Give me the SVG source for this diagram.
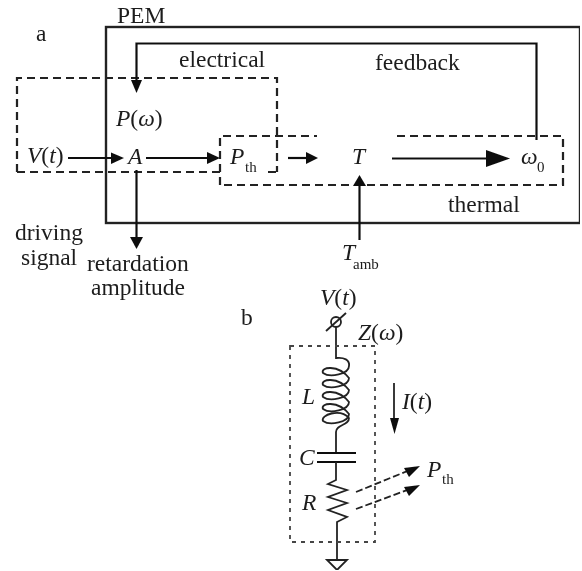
<svg xmlns="http://www.w3.org/2000/svg" width="582" height="571" viewBox="0 0 582 571">
<defs><filter id="soft" x="0" y="0" width="100%" height="100%"><feGaussianBlur stdDeviation="0.45"/></filter></defs>
<style>
text{font-family:"Liberation Serif","Times New Roman",serif;fill:#1c1c1c;font-size:23.500px}
.i{font-style:italic}
.s{font-size:15px}
.box{fill:none;stroke:#222;stroke-width:2.400}
.d{fill:none;stroke:#222;stroke-width:2.200;stroke-dasharray:8 5}
.fine{fill:none;stroke:#444;stroke-width:1.800;stroke-dasharray:4 5}
.w{fill:none;stroke:#222;stroke-width:1.800}
.c{fill:none;stroke:#111;stroke-width:2.200}
.h{fill:#111;stroke:none}
</style>
<rect width="582" height="571" fill="#fff"/>
<g filter="url(#soft)">
<g id="pem"><rect class="box" x="106" y="27" width="474" height="196"/><text x="117" y="23">PEM</text></g>
<g id="label-a"><text x="36" y="41">a</text></g>
<g id="electrical"><path class="d" d="M17 172V78H277V172"/><path class="d" d="M17 172H220M268 172H277"/><text x="179" y="67">electrical</text></g>
<g id="thermal"><path class="d" d="M220 185V136H317M397 136H563V185H220"/><text x="448" y="212">thermal</text></g>
<g id="feedback"><text x="375" y="70">feedback</text></g>
<g id="driving"><text x="15" y="240">driving</text><text x="21" y="265">signal</text></g>
<g id="retardation"><text x="87" y="271">retardation</text><text x="91" y="295">amplitude</text></g>
<g id="p-omega"><text x="116" y="126"><tspan class="i">P</tspan>(<tspan class="i">ω</tspan>)</text></g>
<g id="vt"><text x="27" y="163"><tspan class="i">V</tspan>(<tspan class="i">t</tspan>)</text></g>
<g id="a-node"><text class="i" x="128" y="164">A</text></g>
<g id="pth"><text class="i" x="230" y="164">P</text><text class="s" x="245" y="172">th</text></g>
<g id="t-node"><text class="i" x="352" y="164">T</text></g>
<g id="omega"><text class="i" x="521" y="164">ω</text><text class="s" x="537" y="172">0</text></g>
<g id="tamb"><text class="i" x="342" y="260">T</text><text class="s" x="353" y="269">amb</text></g>
<g id="connectors">
<path class="c" d="M536.500 140V43.500H136.500V80"/><path class="h" d="M131 80H142L136.500 93Z"/>
<path class="c" d="M68 158H112"/><path class="h" d="M111 152.500L124 158L111 164Z"/>
<path class="c" d="M146 158H208"/><path class="h" d="M207 152L220 158L207 164Z"/>
<path class="c" d="M288 158H308"/><path class="h" d="M306 152L318 158L306 164Z"/>
<path class="c" d="M392 158.500H490" stroke-width="3"/><path class="h" d="M486 150L510 158.500L486 167Z"/>
<path class="c" d="M359.500 240V185"/><path class="h" d="M353 186L359.500 175L366 186Z"/>
<path class="c" d="M136.500 170V238"/><path class="h" d="M130 237H143L136.500 249Z"/>
</g>
<g id="label-b"><text x="241" y="325">b</text></g>
<g id="circuit">
<text x="320" y="305"><tspan class="i">V</tspan>(<tspan class="i">t</tspan>)</text>
<text x="358" y="340"><tspan class="i">Z</tspan>(<tspan class="i">ω</tspan>)</text>
<circle class="w" cx="336" cy="322" r="5"/><path class="w" d="M326 331L346 313"/>
<path class="w" d="M336 327V358C344 357 350 360 349 366C349 374 330 378 323 373C320 367 338 364 349 378C349 386 330 390 323 385C320 379 338 376 349 390C349 398 330 402 323 397C320 391 338 388 349 402C349 410 330 414 323 409C320 403 338 400 349 414C349 422 330 426 323 421C320 415 340 408 349 418C349 426 336 424 336 432V453"/>
<path class="c" d="M317 453H356M317 462H356" stroke-width="2.500"/>
<path class="w" d="M336 462V480L328 484L347 490L328 497L347 503L328 510L347 517L337 522V560"/>
<path class="w" d="M327 560H347L337 570Z"/>
<path class="fine" d="M290 346H375V542H290Z"/>
<text class="i" x="302" y="404">L</text><text class="i" x="299" y="465">C</text><text class="i" x="302" y="510">R</text>
<text x="402" y="409"><tspan class="i">I</tspan>(<tspan class="i">t</tspan>)</text>
<path class="w" d="M394 383V420"/><path class="h" d="M390 418H399L394.500 434Z"/>
<path class="w" d="M356 492L410 470M356 509L410 489" stroke-dasharray="7 3"/>
<path class="h" d="M404 468L420 466L409 477ZM404 487L420 485L409 496Z"/>
<text class="i" x="427" y="477">P</text><text class="s" x="442" y="484">th</text>
</g>
</g>
</svg>
